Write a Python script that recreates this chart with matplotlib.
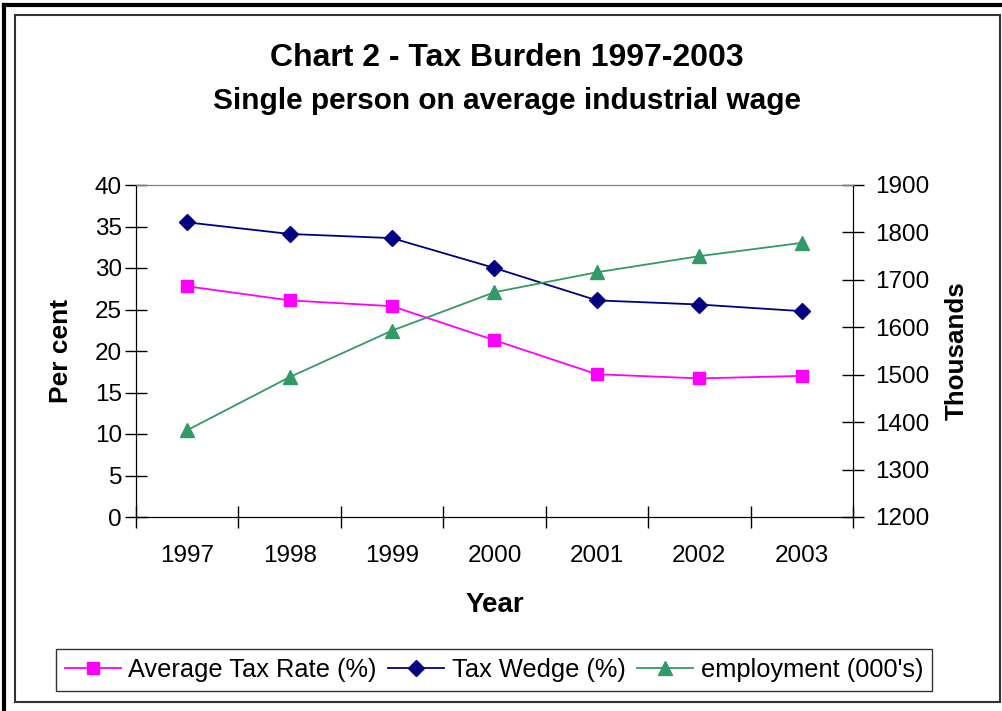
import numpy as np
import matplotlib
matplotlib.use("Agg")
import matplotlib.pyplot as plt
from matplotlib.lines import Line2D
from matplotlib.patches import Rectangle

plt.rcParams['font.family'] = ['Liberation Sans', 'DejaVu Sans']

years = ['1997', '1998', '1999', '2000', '2001', '2002', '2003']
avg_tax_rate = [27.8, 26.1, 25.4, 21.3, 17.2, 16.7, 17.0]
tax_wedge = [35.5, 34.1, 33.6, 30.0, 26.1, 25.6, 24.8]
employment = [1383, 1495, 1593, 1674, 1716, 1750, 1778]

W, H = 1002, 711
fig = plt.figure(figsize=(W / 100, H / 100), dpi=100)

def fx(px):
    return px / W

def fy(py):
    return 1 - py / H

# chart frame and the thick page border
fig.patches.append(Rectangle((fx(15), fy(702)), fx(1000) - fx(15), fy(15) - fy(702),
                             transform=fig.transFigure, fill=False,
                             edgecolor='#333333', lw=1.5))
fig.lines.append(Line2D([fx(4), fx(4)], [fy(5), 0], transform=fig.transFigure,
                        color='black', lw=3))
fig.lines.append(Line2D([fx(4), 1], [fy(5), fy(5)], transform=fig.transFigure,
                        color='black', lw=3))

ax = fig.add_axes([fx(136), fy(517), fx(853) - fx(136), fy(185) - fy(517)])
ax2 = ax.twinx()

x = np.arange(len(years))
l1, = ax.plot(x, avg_tax_rate, color='#FF00FF', marker='s', ms=9, lw=1.3,
              label='Average Tax Rate (%)')
l2, = ax.plot(x, tax_wedge, color='#000080', marker='D', ms=8, lw=1.3,
              label='Tax Wedge (%)')
l3, = ax2.plot(x, employment, color='#339966', marker='^', ms=10, lw=1.3,
               label="employment (000's)")

ax.set_xlim(-0.5, len(years) - 0.5)
ax.set_ylim(0, 40)
ax.set_yticks(range(0, 41, 5))
ax2.set_ylim(1200, 1900)
ax2.set_yticks(range(1200, 1901, 100))

ax.set_xticks(x)
ax.set_xticklabels(years)
ax.set_xticks(np.arange(-0.5, len(years)), minor=True)
ax.tick_params(axis='x', which='major', length=0, pad=20, labelsize=17.5)
ax.tick_params(axis='x', which='minor', direction='inout', length=16, width=1)
ax.tick_params(axis='y', direction='inout', length=16, width=1, labelsize=17.5, pad=2)
ax2.tick_params(axis='y', direction='inout', length=16, width=1, labelsize=17.5, pad=8)

for a in (ax, ax2):
    a.spines['top'].set_color('#808080')
    for s in ('left', 'right', 'bottom'):
        a.spines[s].set_color('black')

ax.set_xlabel('Year', fontsize=20, fontweight='bold', labelpad=18)
ax.set_ylabel('Per cent', fontsize=19, fontweight='bold', labelpad=16)
ax2.set_ylabel('Thousands', fontsize=18.7, fontweight='bold', labelpad=11)

fig.text(fx(507), fy(58), 'Chart 2 - Tax Burden 1997-2003', ha='center', va='center',
         fontsize=23, fontweight='bold')
fig.text(fx(507), fy(101), 'Single person on average industrial wage', ha='center',
         va='center', fontsize=21.4, fontweight='bold')

leg = fig.legend(handles=[l1, l2, l3], loc='center', ncol=3,
                 bbox_to_anchor=(fx(494), fy(670)), fontsize=18.3, frameon=True,
                 fancybox=False, edgecolor='black', handlelength=2.2,
                 handletextpad=0.3, columnspacing=0.45, borderpad=0.35,
                 borderaxespad=0.2)
leg.get_frame().set_linewidth(1)

fig.savefig('out.png', dpi=100)
